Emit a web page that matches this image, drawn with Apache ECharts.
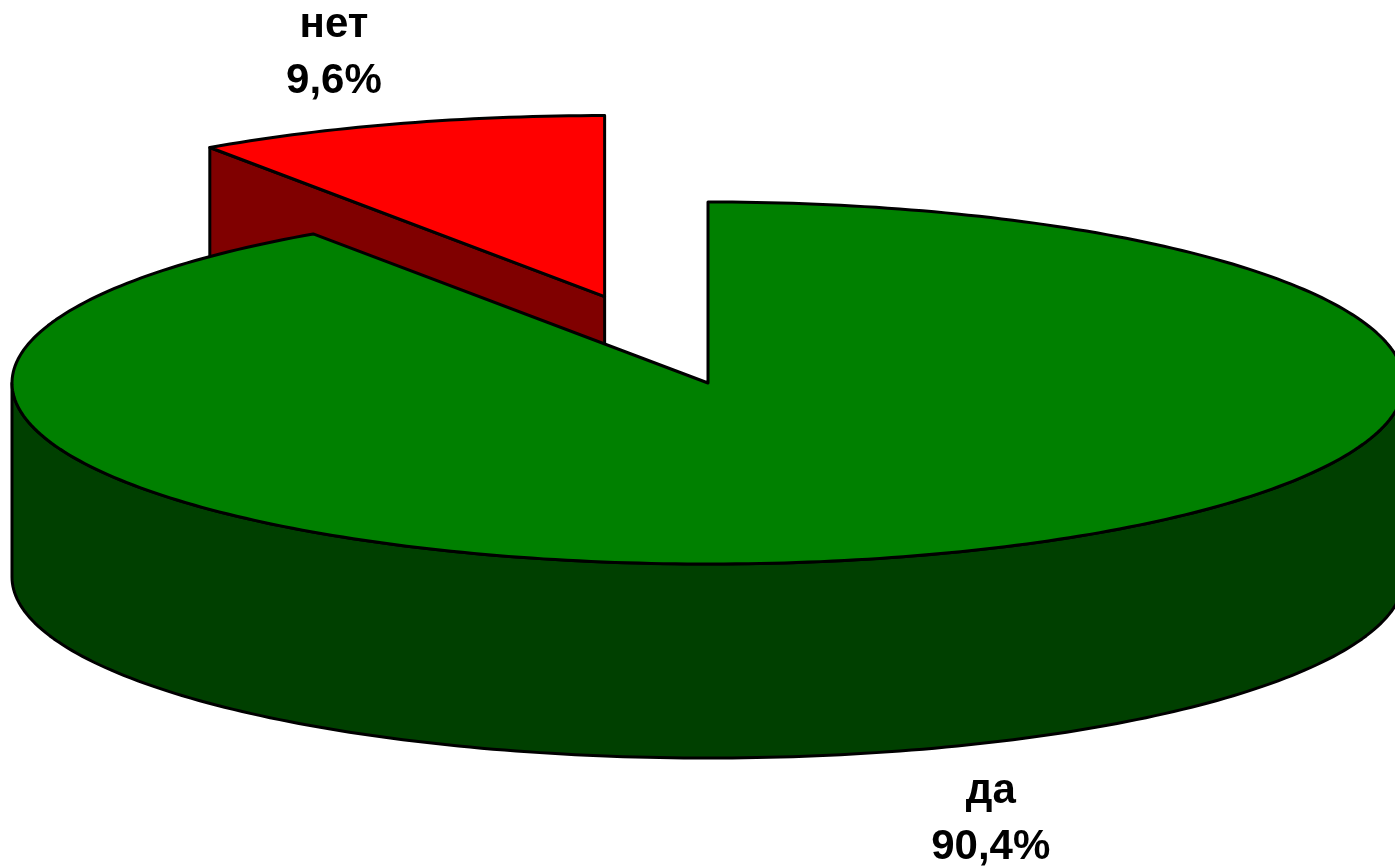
<!DOCTYPE html>
<html>
<head>
<meta charset="utf-8">
<script src="https://cdn.jsdelivr.net/npm/echarts@6/dist/echarts.min.js"></script>
<style>
  html, body { margin: 0; padding: 0; background: #ffffff; }
  #chart { width: 1395px; height: 866px; }
</style>
</head>
<body>
<div id="chart"></div>
<script>
// ---- data ----
const categories = ['да', 'нет'];
const values = [90.4, 9.6];

// ---- styles / layout (not data) ----
const STYLE = {
  top:  { 'да': '#008000', 'нет': '#FF0000' },
  side: { 'да': '#004000', 'нет': '#800000' },
  explode: { 'да': 0, 'нет': 0.5 }
};
const CX = 708, CY = 383, RX = 696, RY = 181, DEPTH = 194;
const LABEL_DX = 70, LABEL_DY = 70, LABEL_SHIFT_X = 6;

const total = values.reduce((a, b) => a + b, 0);
const starts = [];
values.reduce((acc, v, i) => { starts[i] = acc; return acc + v; }, 0);

function pt(cx, cy, aDeg, dy) {
  const r = aDeg * Math.PI / 180;
  return [cx + RX * Math.sin(r), cy - RY * Math.cos(r) + (dy || 0)];
}
function arc(cx, cy, a, b, dy) {
  const n = Math.max(2, Math.ceil(Math.abs(b - a)));
  const out = [];
  for (let k = 0; k <= n; k++) out.push(pt(cx, cy, a + (b - a) * k / n, dy));
  return out;
}
function fmt(v) { return (v / total * 100).toFixed(1).replace('.', ',') + '%'; }

function renderItem(params, api) {
  const i = params.dataIndex;
  const name = categories[i];
  const a0 = starts[i] / total * 360;
  const a1 = (starts[i] + values[i]) / total * 360;
  const bis = (a0 + a1) / 2;
  const br = bis * Math.PI / 180;
  const e = STYLE.explode[name] || 0;
  const cx = CX + e * RX * Math.sin(br);
  const cy = CY - e * RY * Math.cos(br);
  const base = Math.round((-Math.cos(br) + 2) * 10);
  const topC = STYLE.top[name], sideC = STYLE.side[name];
  const lineStyle = { stroke: '#000', lineWidth: 3, lineJoin: 'round' };
  const children = [];

  // radial faces
  const faces = [];
  if (Math.sin(a0 * Math.PI / 180) < -1e-6) faces.push(a0);
  if (Math.sin(a1 * Math.PI / 180) > 1e-6) faces.push(a1);
  faces.forEach(a => {
    const p = pt(cx, cy, a), q = pt(cx, cy, a, DEPTH);
    children.push({
      type: 'polygon', z2: base,
      shape: { points: [[cx, cy], p, q, [cx, cy + DEPTH]] },
      style: Object.assign({ fill: sideC }, lineStyle)
    });
  });

  // outer wall (front half only)
  const s = Math.max(a0, 90), t = Math.min(a1, 270);
  if (s < t) {
    const pts = arc(cx, cy, s, t, 0).concat(arc(cx, cy, t, s, DEPTH));
    children.push({
      type: 'polygon', z2: base + 1,
      shape: { points: pts },
      style: Object.assign({ fill: sideC }, lineStyle)
    });
  }

  // top face
  children.push({
    type: 'polygon', z2: base + 2,
    shape: { points: [[cx, cy]].concat(arc(cx, cy, a0, a1, 0)) },
    style: Object.assign({ fill: topC }, lineStyle)
  });

  // label
  const front = -Math.cos(br) > 0;
  const anchor = pt(cx, cy, bis, front ? DEPTH : 0);
  const lx = anchor[0] + Math.sign(Math.sin(br)) * LABEL_DX + LABEL_SHIFT_X;
  const ly = anchor[1] + Math.sign(-Math.cos(br)) * LABEL_DY;
  children.push({
    type: 'text', z2: 100, x: lx, y: ly,
    style: {
      text: name + '\n' + fmt(values[i]),
      fill: '#000',
      fontFamily: '"Liberation Sans", Arial, sans-serif',
      fontWeight: 'bold',
      fontSize: 42,
      lineHeight: 56,
      align: 'center',
      verticalAlign: 'middle'
    }
  });

  return { type: 'group', children: children };
}

const chart = echarts.init(document.getElementById('chart'), null, { renderer: 'canvas' });
chart.setOption({
  backgroundColor: '#ffffff',
  animation: false,
  series: [{
    type: 'custom',
    coordinateSystem: 'none',
    renderItem: renderItem,
    data: values.map((v, i) => ({ name: categories[i], value: v }))
  }]
});
</script>
</body>
</html>
